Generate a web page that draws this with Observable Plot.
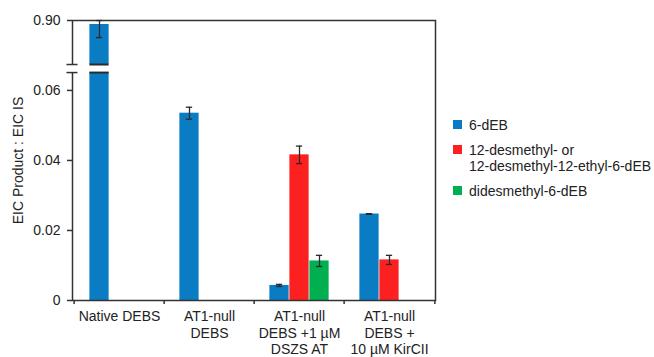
<!DOCTYPE html>
<html><head><meta charset="utf-8">
<script src="https://cdn.jsdelivr.net/npm/d3@7"></script>
<script src="https://cdn.jsdelivr.net/npm/@observablehq/plot@0.6"></script>
<style>
body{margin:0;background:#fff;font-family:"Liberation Sans",Arial,sans-serif;}
#wrap{position:relative;width:654px;height:357px;}
#legend{position:absolute;left:453px;top:117px;font-size:14px;color:#222;line-height:16px;}
.item{display:flex;align-items:flex-start;margin-bottom:9px;}
.sw{width:9px;height:9px;margin-right:7px;margin-top:3px;flex:none;}
</style></head>
<body><div id="wrap"><div id="chart"></div><div id="legend"></div></div>
<script>
const groups = ["Native DEBS", "AT1-null DEBS", "AT1-null DEBS +1 µM DSZS AT", "AT1-null DEBS + 10 µM KirCII"];
const groupLabels = ["Native DEBS", "AT1-null\nDEBS", "AT1-null\nDEBS +1 µM\nDSZS AT", "AT1-null\nDEBS +\n10 µM KirCII"];
const series = ["6-dEB", "12-desmethyl- or\n12-desmethyl-12-ethyl-6-dEB", "didesmethyl-6-dEB"];
const colors = ["#0a7cc4", "#fc2020", "#00b050"];
const dEB = [0.885, 0.0535, 0.0043, 0.0247];
const dEBErr = [0.049, 0.0017, 0.0003, 0.0001];
const desmethyl = [null, null, 0.0416, 0.0116];
const desmethylErr = [null, null, 0.0025, 0.0013];
const didesmethyl = [null, null, 0.0113, null];
const didesmethylErr = [null, null, 0.0016, null];
const yTicks = [0, 0.02, 0.04, 0.06, 0.90];
const breakLow = 0.0651, breakHigh = 0.735, yTop = 0.90;

const values = [dEB, desmethyl, didesmethyl];
const errs = [dEBErr, desmethylErr, didesmethylErr];
const rows = [];
series.forEach((s, i) => groups.forEach((g, j) => {
  if (values[i][j] != null) rows.push({series: s, si: i, group: g, value: values[i][j], err: errs[i][j]});
}));

// broken-axis transform: lower segment kept linear, gap squeezed, upper segment compressed
const gapU = 0.0023;          // display units for the gap
const kTop = 0.0762;          // compression of upper segment
const T = v => v <= breakLow ? v
  : v >= breakHigh ? breakLow + gapU + (v - breakHigh) * kTop
  : breakLow + (v - breakLow) / (breakHigh - breakLow) * gapU;

const bw = 363 / 4;              // band width in px
const barW = 20, capW = 7;
const offsets = [-barW, 0, barW];
const ink = "#2a2a2a";

const marks = [];
series.forEach((s, i) => {
  const d = rows.filter(r => r.si === i);
  marks.push(Plot.barY(d, {x: "group", y: "value", fill: colors[i], dx: offsets[i], insetLeft: (bw - barW) / 2, insetRight: (bw - barW) / 2}));
});
marks.push(Plot.frame({stroke: "#333", strokeWidth: 1.5}));
// axis break
marks.push(Plot.rect([0], {y1: breakLow, y2: breakHigh, fill: "white", insetLeft: -7, insetRight: 1.5}));
series.forEach((s, i) => {
  const d = rows.filter(r => r.si === i && r.value > breakHigh);
  for (const yb of [breakLow, breakHigh]) marks.push(Plot.tickY(d, {x: "group", y: () => yb, dx: offsets[i], insetLeft: (bw - barW) / 2, insetRight: (bw - barW) / 2, stroke: ink, strokeWidth: 2}));
});
marks.push(Plot.axisY([breakLow, breakHigh], {tickSize: 11, dx: 5.5, tickFormat: () => "", stroke: "#333", strokeWidth: 1.5, label: null}));
// y axis
marks.push(Plot.axisY(yTicks, {tickSize: 5, tickPadding: 7, tickFormat: d => d === 0 ? "0" : d.toFixed(2), stroke: "#333", strokeWidth: 1.5, fill: "#222", fontSize: 14, label: null}));
// x axis
marks.push(Plot.axisX(groups, {tickSize: 4, dx: -bw / 2, tickFormat: () => "", stroke: "#333", strokeWidth: 1.5, label: null}));
marks.push(Plot.axisX([groups[groups.length - 1]], {tickSize: 4, dx: bw / 2, tickFormat: () => "", stroke: "#333", strokeWidth: 1.5, label: null}));
marks.push(Plot.axisX(groups, {tickSize: 0, tickPadding: 9, tickFormat: d => groupLabels[groups.indexOf(d)], fill: "#222", fontSize: 14, lineHeight: 1.17, label: null}));
// error bars
series.forEach((s, i) => {
  const d = rows.filter(r => r.si === i);
  marks.push(Plot.ruleX(d, {x: "group", y1: r => r.value - r.err, y2: r => r.value + r.err, dx: offsets[i], stroke: ink, strokeWidth: 1.3}));
  marks.push(Plot.tickY(d, {x: "group", y: r => r.value + r.err, dx: offsets[i], insetLeft: (bw - capW) / 2, insetRight: (bw - capW) / 2, stroke: ink, strokeWidth: 1.3}));
  marks.push(Plot.tickY(d, {x: "group", y: r => r.value - r.err, dx: offsets[i], insetLeft: (bw - capW) / 2, insetRight: (bw - capW) / 2, stroke: ink, strokeWidth: 1.3}));
});
marks.push(Plot.text(["EIC Product : EIC IS"], {frameAnchor: "left", textAnchor: "middle", rotate: -90, dx: -54, fontSize: 14, fill: "#222"}));

const chart = Plot.plot({
  width: 654, height: 357,
  marginLeft: 72, marginRight: 219, marginTop: 20, marginBottom: 57,
  style: {fontFamily: "'Liberation Sans', Arial, sans-serif", fontSize: "14px", color: "#222", background: "white"},
  x: {domain: groups, padding: 0, axis: null},
  y: {type: "linear", transform: T, domain: [0, T(yTop)], range: [300, 20], clamp: true, axis: null},
  marks
});
document.getElementById("chart").appendChild(chart);

const legend = document.getElementById("legend");
series.forEach((s, i) => {
  const item = document.createElement("div");
  item.className = "item";
  const sw = document.createElement("div");
  sw.className = "sw";
  sw.style.background = colors[i];
  const tx = document.createElement("div");
  tx.innerHTML = s.split("\n").join("<br>");
  item.appendChild(sw); item.appendChild(tx);
  legend.appendChild(item);
});
</script>
</body></html>
